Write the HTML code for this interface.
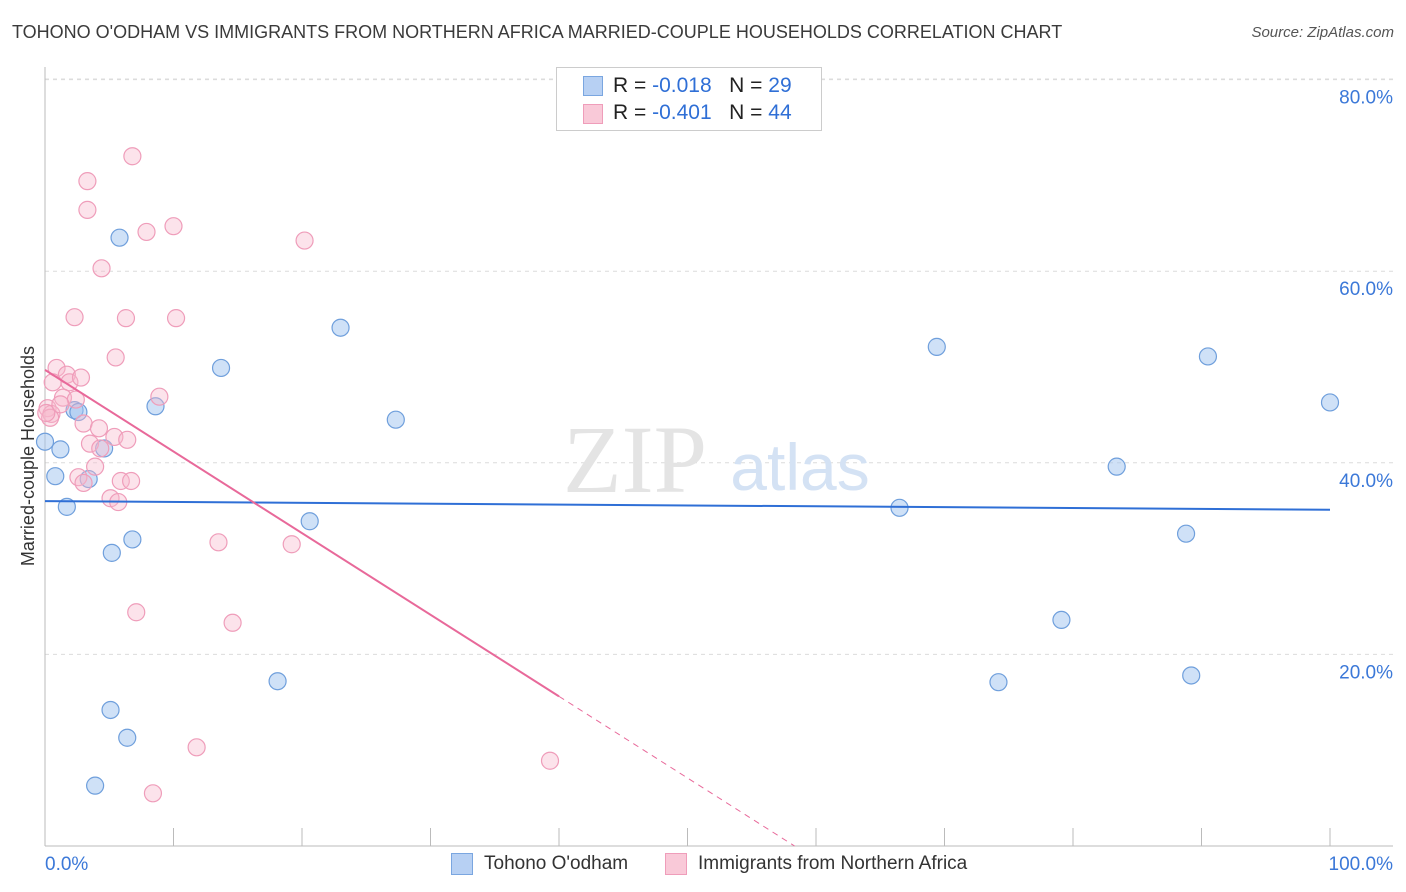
<!DOCTYPE html>
<html><head><meta charset="utf-8">
<style>
body{margin:0;background:#fff;font-family:"Liberation Sans",sans-serif;}
#wrap{position:relative;width:1406px;height:892px;overflow:hidden;}
.t{position:absolute;white-space:nowrap;}
</style></head>
<body>
<div id="wrap">
<div class="t" style="left:12px;top:22px;font-size:18px;color:#3a3a3a;">TOHONO O'ODHAM VS IMMIGRANTS FROM NORTHERN AFRICA MARRIED-COUPLE HOUSEHOLDS CORRELATION CHART</div>
<div class="t" style="right:12px;top:24px;font-size:15px;color:#555;font-style:italic;">Source: ZipAtlas.com</div>
<svg id="plot" width="1406" height="892" style="position:absolute;left:0;top:0"></svg>
</div>
<script>
const blueX=[0,0.8,1.2,1.7,2.3,2.6,3.4,4.6,5.8,5.2,6.8,8.6,13.7,5.1,6.4,3.9,18.1,23.0,27.3,20.6,66.5,69.4,74.2,79.1,83.4,88.8,89.2,90.5,100];
const blueY=[42.2,38.6,41.4,35.4,45.5,45.3,38.3,41.5,63.5,30.6,32.0,45.9,49.9,14.2,11.3,6.3,17.2,54.1,44.5,33.9,35.3,52.1,17.1,23.6,39.6,32.6,17.8,51.1,46.3];
const pinkX=[6.8,3.3,3.3,7.9,10.0,20.2,4.4,2.3,6.3,10.2,5.5,0.9,1.7,1.9,2.8,0.6,1.4,0.2,0.5,0.4,2.4,3.0,3.5,4.2,5.4,6.4,3.9,2.6,3.0,5.9,6.7,5.1,5.7,13.5,19.2,7.1,14.6,11.8,8.4,39.3,8.9,0.1,4.3,1.2];
const pinkY=[72.0,69.4,66.4,64.1,64.7,63.2,60.3,55.2,55.1,55.1,51.0,49.9,49.2,48.4,48.9,48.4,46.8,45.7,45.1,44.7,46.6,44.1,42.0,43.6,42.7,42.4,39.6,38.5,37.9,38.1,38.1,36.3,35.9,31.7,31.5,24.4,23.3,10.3,5.5,8.9,46.9,45.2,41.5,46.1];
const blueLine=[36.0,-0.009];
const pinkLine=[49.7,-0.852];
const yTicks=[20,40,60,80];
const yTickLabels=["20.0%","40.0%","60.0%","80.0%"];
const xTicks=[0,10,20,30,40,50,60,70,80,90,100];

const NS="http://www.w3.org/2000/svg";
const svg=document.getElementById('plot');
const X0=45,X1=1330,Y0=846,PPY=9.58;
const sx=v=>X0+(X1-X0)*v/100;
const sy=v=>Y0-v*PPY;
function mk(tag,at){const e=document.createElementNS(NS,tag);for(const k in at)e.setAttribute(k,at[k]);svg.appendChild(e);return e;}
yTicks.forEach((t,i)=>{
 const g=mk('line',{x1:X0,x2:1393,y1:sy(t),y2:sy(t),stroke:'#dcdcdc','stroke-dasharray':'4,4'});
 
 
 const l=mk('text',{x:1393,y:sy(t)+24,'text-anchor':'end','font-size':19,fill:'#3b78d8'});
 l.textContent=yTickLabels[i];
 
 
});
const tg=mk('line',{x1:X0,x2:1393,y1:79,y2:79,stroke:'#dcdcdc','stroke-dasharray':'4,4'});


const ax=mk('line',{x1:X0,x2:1393,y1:Y0,y2:Y0,stroke:'#bbb'});


const ay=mk('line',{x1:X0,x2:X0,y1:67,y2:Y0,stroke:'#bbb'});


xTicks.forEach(t=>{
 const k=mk('line',{x1:sx(t),x2:sx(t),y1:828,y2:Y0,stroke:'#bbb'});
 
 
});
const xl0=mk('text',{x:45,y:870,'font-size':19,fill:'#3b78d8'});xl0.textContent='0.0%';


const xl1=mk('text',{x:1393,y:870,'font-size':19,fill:'#3b78d8','text-anchor':'end'});xl1.textContent='100.0%';


const yt=mk('text',{x:34,y:456,'font-size':18,fill:'#333','text-anchor':'middle',transform:'rotate(-90 34 456)'});yt.textContent='Married-couple Households';


const w1=mk('text',{x:635,y:492,'font-size':96,fill:'#e4e4e4','text-anchor':'middle','font-family':'Liberation Serif',}); w1.textContent='ZIP';


const w2=mk('text',{x:800,y:490,'font-size':66,fill:'#d4e2f4','text-anchor':'middle'}); w2.textContent='atlas';


blueX.forEach((x,i)=>{
 const c=mk('circle',{cx:sx(x),cy:sy(blueY[i]),r:8.5,fill:'rgba(160,195,240,0.5)',stroke:'#6f9fdc','stroke-width':1.2});
 
 
});
pinkX.forEach((x,i)=>{
 const c=mk('circle',{cx:sx(x),cy:sy(pinkY[i]),r:8.5,fill:'rgba(247,185,205,0.4)',stroke:'#ef9dba','stroke-width':1.2});
 
 
});
const bl=mk('line',{x1:sx(0),y1:sy(blueLine[0]),x2:sx(100),y2:sy(blueLine[0]+blueLine[1]*100),stroke:'#2f6fd6','stroke-width':2});


const pe=40;
const pl=mk('line',{x1:sx(0),y1:sy(pinkLine[0]),x2:sx(pe),y2:sy(pinkLine[0]+pinkLine[1]*pe),stroke:'#e8699a','stroke-width':2});


const xz=-pinkLine[0]/pinkLine[1];
const pd=mk('line',{x1:sx(pe),y1:sy(pinkLine[0]+pinkLine[1]*pe),x2:sx(xz),y2:sy(0),stroke:'#e8699a','stroke-width':1,'stroke-dasharray':'6,5'});


</script>
<div style="position:absolute;left:556px;top:67px;width:264px;height:62px;border:1px solid #ccc;background:#fff;font-size:21px;">
 <div style="position:absolute;left:26px;top:8px;width:18px;height:18px;background:#b7d0f3;border:1px solid #7aa6e0;"></div>
 <div class="t" style="left:56px;top:6px;color:#222;">R = <span style="color:#2f6fd6">-0.018</span>&nbsp;&nbsp;&nbsp;N = <span style="color:#2f6fd6">29</span></div>
 <div style="position:absolute;left:26px;top:36px;width:18px;height:18px;background:#f9c9d8;border:1px solid #ef9dba;"></div>
 <div class="t" style="left:56px;top:33px;color:#222;">R = <span style="color:#2f6fd6">-0.401</span>&nbsp;&nbsp;&nbsp;N = <span style="color:#2f6fd6">44</span></div>
</div>
<div style="position:absolute;left:0;top:852px;width:1406px;font-size:19px;color:#333;">
 <div style="position:absolute;left:451px;top:1px;width:20px;height:20px;background:#b7d0f3;border:1px solid #7aa6e0;"></div>
 <div class="t" style="left:484px;top:1px;">Tohono O'odham</div>
 <div style="position:absolute;left:665px;top:1px;width:20px;height:20px;background:#f9c9d8;border:1px solid #ef9dba;"></div>
 <div class="t" style="left:698px;top:1px;">Immigrants from Northern Africa</div>
</div>
</body></html>
